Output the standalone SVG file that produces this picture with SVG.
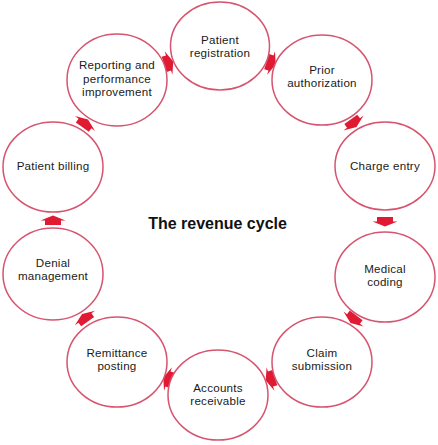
<svg xmlns="http://www.w3.org/2000/svg" width="438" height="445" viewBox="0 0 438 445">
<style>
.node ellipse{fill:#ffffff;stroke:#d6546f;stroke-width:1.5}
.node text{font-family:"Liberation Sans",Arial,sans-serif;font-size:11.6px;letter-spacing:0.25px;fill:#1a1a1a;text-anchor:middle}
.title{font-family:"Liberation Sans",Arial,sans-serif;font-size:16px;font-weight:bold;fill:#111111;text-anchor:middle}
.arrow{fill:#e01a33}
</style>
<defs>
<path id="arr" d="M-4.5,-8 H0 V-12.5 L5,0 L0,12.5 V8 H-4.5 Z"/>
</defs>
<rect width="438" height="445" fill="#ffffff"/>
<g id="connectors">
<use href="#arr" class="arrow" transform="translate(271,63) rotate(18.4)"/>
<use href="#arr" class="arrow" transform="translate(353.5,123) rotate(53.8)"/>
<use href="#arr" class="arrow" transform="translate(385,221.5) rotate(90)"/>
<use href="#arr" class="arrow" transform="translate(353.5,319) rotate(126.5)"/>
<use href="#arr" class="arrow" transform="translate(270.5,379) rotate(161.7)"/>
<use href="#arr" class="arrow" transform="translate(168,379) rotate(198.4)"/>
<use href="#arr" class="arrow" transform="translate(85,318) rotate(234)"/>
<use href="#arr" class="arrow" transform="translate(53,220.5) rotate(270)"/>
<use href="#arr" class="arrow" transform="translate(85,123.5) rotate(-53.7)"/>
<use href="#arr" class="arrow" transform="translate(168.5,63) rotate(-18.3)"/>
</g>
<g id="patient-registration" class="node">
<ellipse cx="220" cy="46" rx="49.5" ry="44"/>
<text x="220" y="44">Patient</text>
<text x="220" y="57.4">registration</text>
</g>
<g id="prior-authorization" class="node">
<ellipse cx="322" cy="80" rx="50" ry="45"/>
<text x="322" y="74">Prior</text>
<text x="322" y="87.4">authorization</text>
</g>
<g id="charge-entry" class="node">
<ellipse cx="385" cy="166" rx="50" ry="44"/>
<text x="385" y="169.5">Charge entry</text>
</g>
<g id="medical-coding" class="node">
<ellipse cx="385" cy="277" rx="50" ry="45"/>
<text x="385" y="273">Medical</text>
<text x="385" y="286.4">coding</text>
</g>
<g id="claim-submission" class="node">
<ellipse cx="322" cy="362" rx="50" ry="45"/>
<text x="322" y="357">Claim</text>
<text x="322" y="370.4">submission</text>
</g>
<g id="accounts-receivable" class="node">
<ellipse cx="218" cy="395" rx="50" ry="45"/>
<text x="218" y="391.5">Accounts</text>
<text x="218" y="404.9">receivable</text>
</g>
<g id="remittance-posting" class="node">
<ellipse cx="117" cy="362" rx="50" ry="45"/>
<text x="117" y="357">Remittance</text>
<text x="117" y="370.4">posting</text>
</g>
<g id="denial-management" class="node">
<ellipse cx="53" cy="274" rx="50" ry="46"/>
<text x="53" y="267">Denial</text>
<text x="53" y="280.4">management</text>
</g>
<g id="patient-billing" class="node">
<ellipse cx="53" cy="167" rx="50" ry="45"/>
<text x="53" y="170">Patient billing</text>
</g>
<g id="reporting-performance" class="node">
<ellipse cx="117" cy="80" rx="50" ry="46"/>
<text x="117" y="69.3">Reporting and</text>
<text x="117" y="82.7">performance</text>
<text x="117" y="96.1">improvement</text>
</g>
<text class="title" x="217.5" y="229">The revenue cycle</text>
</svg>
